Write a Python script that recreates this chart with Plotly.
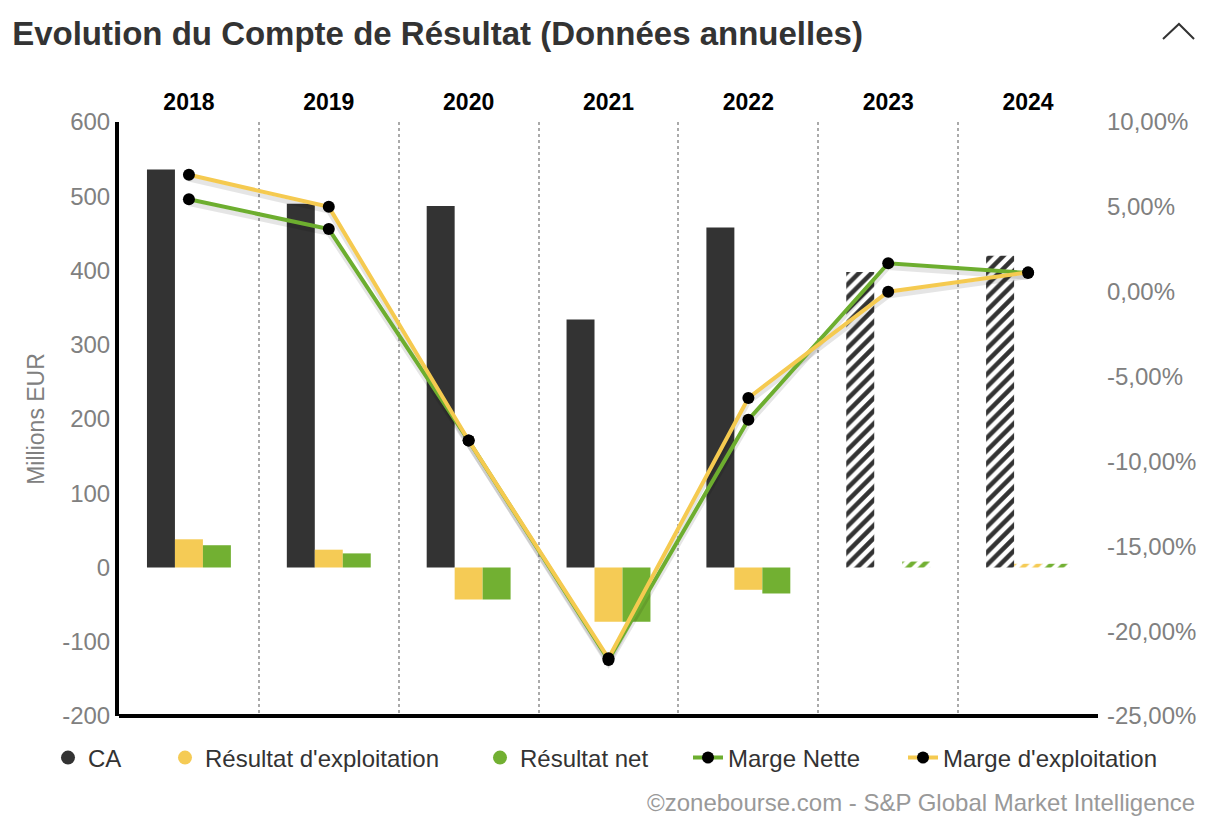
import plotly.graph_objects as go

years = ["2018", "2019", "2020", "2021", "2022", "2023", "2024"]
ca = [536, 490, 487, 334, 458, 398, 420]
res_exploit = [38, 24, -43, -73, -30, None, 5]
res_net = [30, 19, -43, -73, -35, 8, 5]
marge_nette = [5.45, 3.69, -8.77, -21.7, -7.54, 1.68, 1.10]
marge_exploit = [6.89, 5.00, -8.77, -21.6, -6.26, 0.00, 1.14]
estimated = [False, False, False, False, False, True, True]

left_ticks = [-200, -100, 0, 100, 200, 300, 400, 500, 600]
left_labels = ["-200", "-100", "0", "100", "200", "300", "400", "500", "600"]
right_ticks = [-25, -20, -15, -10, -5, 0, 5, 10]
right_labels = ["-25,00%", "-20,00%", "-15,00%", "-10,00%", "-5,00%", "0,00%", "5,00%", "10,00%"]

C_DARK = "#333333"
C_YELLOW = "#F5CB55"
C_GREEN = "#72B032"
L_GREEN = "#6DAE2F"
L_YELLOW = "#F5CA50"

shapes_pat = ["/" if e else "" for e in estimated]

def bar(name, vals, color):
    return go.Bar(
        x=years, y=vals, name=name, showlegend=False,
        marker=dict(color=color, line=dict(width=0),
                    pattern=dict(shape=shapes_pat, fillmode="replace",
                                 bgcolor="white", fgcolor=color, size=9, solidity=0.5)),
        hoverinfo="y",
    )

fig = go.Figure()
fig.add_trace(bar("CA", ca, C_DARK))
fig.add_trace(bar("Résultat d'exploitation", res_exploit, C_YELLOW))
fig.add_trace(bar("Résultat net", res_net, C_GREEN))

# soft shadows under the lines
for vals in (marge_nette, marge_exploit):
    fig.add_trace(go.Scatter(x=years, y=[v - 0.25 for v in vals], yaxis="y2", mode="lines",
                             line=dict(color="rgba(0,0,0,0.10)", width=5),
                             showlegend=False, hoverinfo="skip"))

fig.add_trace(go.Scatter(x=years, y=marge_nette, yaxis="y2", name="Marge Nette",
                         mode="lines+markers", line=dict(color=L_GREEN, width=4),
                         marker=dict(color="black", size=12), showlegend=False))
fig.add_trace(go.Scatter(x=years, y=marge_exploit, yaxis="y2", name="Marge d'exploitation",
                         mode="lines+markers", line=dict(color=L_YELLOW, width=4),
                         marker=dict(color="black", size=12), showlegend=False))

# legend entries, one legend box each so they can sit on one wide row
legend_items = [
    ("CA", "markers", C_DARK, 48),
    ("Résultat d'exploitation", "markers", C_YELLOW, 165),
    ("Résultat net", "markers", C_GREEN, 480),
    ("Marge Nette", "lines+markers", L_GREEN, 688),
    ("Marge d'exploitation", "lines+markers", L_YELLOW, 903),
]

font = "Liberation Sans, Arial, sans-serif"
legend_layouts = {}
for i, (name, mode, color, left) in enumerate(legend_items):
    key = "legend" if i == 0 else "legend%d" % (i + 1)
    if mode == "markers":
        tr = go.Scatter(x=[None], y=[None], mode="markers", name=name, legend=key,
                        marker=dict(color=color, size=14, symbol="circle"))
    else:
        tr = go.Scatter(x=[None], y=[None], mode="lines+markers", name=name, legend=key,
                        line=dict(color=color, width=4), marker=dict(color="black", size=12))
    fig.add_trace(tr)
    legend_layouts[key] = dict(orientation="h", xref="container", yref="container",
                               x=left / 1216, xanchor="left",
                               y=(834 - 758) / 834, yanchor="middle",
                               font=dict(size=24, color="#333333", family=font),
                               itemwidth=30, bgcolor="rgba(0,0,0,0)")

fig.update_layout(
    width=1216, height=834,
    margin=dict(l=119, r=118, t=122, b=118, autoexpand=False),
    paper_bgcolor="white", plot_bgcolor="white",
    font=dict(family=font, size=24, color="#333333"),
    barmode="group", bargap=0.4, bargroupgap=0,
    title=dict(text="<b>Evolution du Compte de Résultat (Données annuelles)</b>",
               x=0.01, xanchor="left", y=0.96, yanchor="middle",
               font=dict(size=33, color="#333333", family=font)),
    xaxis=dict(type="category", side="top", showline=False, ticks="",
               tickfont=dict(size=23, color="black", family=font),
               tickprefix="<b>", ticksuffix="</b>", ticklabelstandoff=6,
               showgrid=True, tickson="boundaries", griddash="dot",
               gridcolor="#aaaaaa", gridwidth=2, zeroline=False),
    yaxis=dict(range=[-200, 600], tickvals=left_ticks, ticktext=left_labels,
               tickfont=dict(size=24, color="#808080"), showgrid=False, zeroline=False,
               showline=True, linecolor="black", linewidth=4, ticks="",
               title=dict(text="Millions EUR", font=dict(size=23, color="#808080"), standoff=12)),
    yaxis2=dict(range=[-25, 10], overlaying="y", side="right", tickvals=right_ticks,
                ticktext=right_labels, tickfont=dict(size=24, color="#808080"),
                ticklabelstandoff=8,
                showgrid=False, zeroline=False, showline=False, ticks=""),
    shapes=[
        dict(type="line", xref="paper", yref="paper", x0=0, x1=1, y0=0, y1=0,
             line=dict(color="black", width=4)),
        dict(type="path", xref="paper", yref="paper",
             path="M {:.4f},{:.4f} L {:.4f},{:.4f} L {:.4f},{:.4f}".format(
                 (1163 - 119) / 979, (716 - 39) / 594,
                 (1179 - 119) / 979, (716 - 24) / 594,
                 (1194 - 119) / 979, (716 - 39) / 594),
             line=dict(color="#333333", width=2)),
    ],
    annotations=[
        dict(text="©zonebourse.com - S&P Global Market Intelligence", xref="paper", yref="paper",
             x=(1197 - 119) / 979, y=(716 - 802) / 594, xanchor="right", yanchor="middle",
             showarrow=False, font=dict(size=24, color="#999999")),
    ],
    **legend_layouts,
)

fig.write_html("out.html")
